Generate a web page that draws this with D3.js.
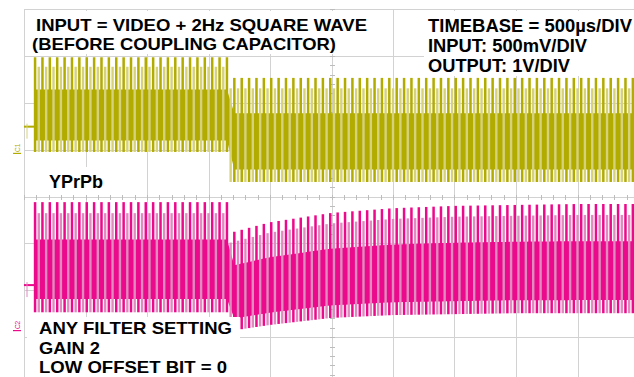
<!DOCTYPE html>
<html>
<head>
<meta charset="utf-8">
<script src="https://cdn.jsdelivr.net/npm/d3@7"></script>
<style>
  html, body { margin: 0; padding: 0; background: #fff; }
  svg { display: block; }
  text { font-family: "Liberation Sans", Arial, sans-serif; font-weight: bold; fill: #000; }
</style>
</head>
<body>
<svg id="chart" width="634" height="377"></svg>
<script>
// ---------------- DATA ----------------
// Horizontal: 500 µs/div, 10 divisions -> 0 .. 5 ms
const timeRangeMs = [0, 5];
const traceStartMs = 0.09;      // trace begins after short pre-trigger stub
const stepTimeMs = 1.66;        // 2 Hz square wave edge
const videoLineMs = 0.06;       // displayed (aliased) video line period

// Channel 1: input, 500 mV/div; volts relative to the C1 marker
const ch1VoltsPerDiv = 0.5;
const ch1MarkerDiv = 0.93;
const ch1PreLevel = 0.28;
const ch1Times  = [0.09, 1.66, 1.67, 5.0];
const ch1Top    = [1.02, 1.02, 0.80, 0.80];
const ch1Bottom = [0.01, 0.01, -0.31, -0.31];

// Channel 2: output, 1 V/div; volts relative to the C2 marker
const ch2VoltsPerDiv = 1.0;
const ch2MarkerDiv = -2.85;
const ch2PreLevel = 0.96;
const ch2Times  = [0.09, 1.66, 1.67, 2.0, 2.5, 3.0, 3.5, 4.0, 4.5, 5.0];
const ch2Top    = [2.73, 2.73, 2.07, 2.30, 2.50, 2.60, 2.65, 2.67, 2.69, 2.69];
const ch2Bottom = [0.38, 0.38, -0.02, 0.11, 0.26, 0.32, 0.34, 0.36, 0.36, 0.36];

// Shape of one video line (fraction of the envelope, 0 = sync tip, 1 = peak)
const denseBand = [0.12, 0.66];
const darkSpike = [0.0, 1.0];
const lightSpike = [0.0, 0.9];

// Annotations
const noteTopLeft = ["INPUT = VIDEO + 2Hz SQUARE WAVE", "(BEFORE COUPLING CAPACITOR)"];
const noteTopRight = ["TIMEBASE = 500µs/DIV", "INPUT: 500mV/DIV", "OUTPUT: 1V/DIV"];
const noteMiddle = ["YPrPb"];
const noteBottom = ["ANY FILTER SETTING", "GAIN 2", "LOW OFFSET BIT = 0"];

// ---------------- DRAWING ----------------
const svg = d3.select("#chart");
const W = 634, H = 377;

const x = d3.scaleLinear().domain(timeRangeMs).range([24, 639]);
const yDiv = d3.scaleLinear().domain([-4, 4]).range([384, 9]);

const gridColor = "#d2d2d2";
const grid = svg.append("g");
d3.range(0, 11).forEach(i => {
  const gx = Math.round(x(i * 0.5)) + 0.5;
  grid.append("line").attr("x1", gx).attr("x2", gx).attr("y1", yDiv(4)).attr("y2", yDiv(-4))
    .attr("stroke", gridColor).attr("stroke-width", 1);
});
d3.range(-4, 5).forEach(d => {
  const gy = Math.round(yDiv(d)) + 0.5;
  grid.append("line").attr("x1", x(0)).attr("x2", W).attr("y1", gy).attr("y2", gy)
    .attr("stroke", gridColor).attr("stroke-width", 1);
});
// minor ticks on the centre lines
const cy = Math.round(yDiv(0)) + 0.5, cx = Math.round(x(2.5)) + 0.5;
d3.range(0, 51).forEach(i => {
  const tx = Math.round(x(i * 0.1)) + 0.5;
  grid.append("line").attr("x1", tx).attr("x2", tx).attr("y1", cy - 2.5).attr("y2", cy + 2.5)
    .attr("stroke", "#bdbdbd");
});
d3.range(-20, 21).forEach(i => {
  const ty = Math.round(yDiv(i * 0.2)) + 0.5;
  grid.append("line").attr("x1", cx - 2.5).attr("x2", cx + 2.5).attr("y1", ty).attr("y2", ty)
    .attr("stroke", "#bdbdbd");
});

function drawChannel(cfg) {
  const g = svg.append("g");
  const toY = v => yDiv(v / cfg.vpd + cfg.marker);
  const topS = d3.scaleLinear().domain(cfg.times).range(cfg.top).clamp(true);
  const botS = d3.scaleLinear().domain(cfg.times).range(cfg.bottom).clamp(true);
  const lvl = (t, f) => toY(botS(t) + f * (topS(t) - botS(t)));

  // pre-trigger stub
  g.append("line").attr("x1", x(0)).attr("x2", x(traceStartMs))
    .attr("y1", toY(cfg.pre)).attr("y2", toY(cfg.pre))
    .attr("stroke", cfg.dark).attr("stroke-width", 2);
  g.append("line").attr("x1", x(0) + 3).attr("x2", x(0) + 3)
    .attr("y1", toY(cfg.pre) - 3).attr("y2", toY(cfg.pre) + 12)
    .attr("stroke", cfg.light).attr("stroke-width", 1);

  const lines = [];
  for (let k = 0; ; k++) {
    const t = traceStartMs + k * videoLineMs;
    if (t > timeRangeMs[1] + 0.05) break;
    lines.push(t);
  }

  // dense band
  const bandPts = [];
  lines.forEach(t => { bandPts.push(t); bandPts.push(t + videoLineMs * 0.999); });
  g.append("path")
    .datum(bandPts)
    .attr("fill", cfg.dark)
    .attr("d", d3.area().x(t => x(t))
      .y0(t => lvl(t, denseBand[0])).y1(t => lvl(t, denseBand[1])));

  // light spikes
  g.selectAll("line.light").data(lines).join("line").attr("class", "light")
    .attr("x1", t => x(t + videoLineMs * 0.5)).attr("x2", t => x(t + videoLineMs * 0.5))
    .attr("y1", t => lvl(t + videoLineMs * 0.5, lightSpike[0]))
    .attr("y2", t => lvl(t + videoLineMs * 0.5, lightSpike[1]))
    .attr("stroke", cfg.light).attr("stroke-width", 2.4);

  // dark spikes
  g.selectAll("rect.dark").data(lines).join("rect").attr("class", "dark")
    .attr("x", t => x(t) - 1.25).attr("width", 2.5)
    .attr("y", t => lvl(t, darkSpike[1]))
    .attr("height", t => lvl(t, darkSpike[0]) - lvl(t, darkSpike[1]))
    .attr("fill", cfg.dark);

  // channel marker
  const my = toY(0);
  g.append("line").attr("x1", 13).attr("x2", 21).attr("y1", my + 0.5).attr("y2", my + 0.5)
    .attr("stroke", cfg.dark).attr("stroke-width", 1.2);
  g.append("text").attr("transform", `translate(19.5,${my - 1}) rotate(-90)`)
    .attr("font-size", 6.5).style("fill", cfg.dark).style("font-weight", "normal")
    .text(cfg.name);
}

drawChannel({ name: "C1", times: ch1Times, top: ch1Top, bottom: ch1Bottom, pre: ch1PreLevel,
  vpd: ch1VoltsPerDiv, marker: ch1MarkerDiv, dark: "#b2ab00", light: "#d6d27c" });
drawChannel({ name: "C2", times: ch2Times, top: ch2Top, bottom: ch2Bottom, pre: ch2PreLevel,
  vpd: ch2VoltsPerDiv, marker: ch2MarkerDiv, dark: "#ec0a8c", light: "#de8cbf" });

// annotations with white backgrounds
function note(lines, box, xs, baselines, widths, size) {
  svg.append("rect").attr("x", box[0]).attr("y", box[1]).attr("width", box[2]).attr("height", box[3])
    .attr("fill", "#fff");
  lines.forEach((s, i) => {
    svg.append("text").attr("x", xs[i]).attr("y", baselines[i])
      .attr("font-size", size)
      .attr("textLength", widths[i]).attr("lengthAdjust", "spacingAndGlyphs")
      .text(s);
  });
}
note(noteTopLeft, [28, 11, 345, 43], [36, 32], [31, 49.5], [331, 304], 16.5);
note(noteTopRight, [424, 11, 210, 65], [428, 428, 428], [32, 52, 72], [204, 159, 142], 17.5);
note(noteMiddle, [40, 167, 74, 28], [49], [188], [54], 17.5);
note(noteBottom, [27, 317, 213, 60], [39, 39, 39], [334, 354, 373], [193, 61, 188], 17);
</script>
</body>
</html>
